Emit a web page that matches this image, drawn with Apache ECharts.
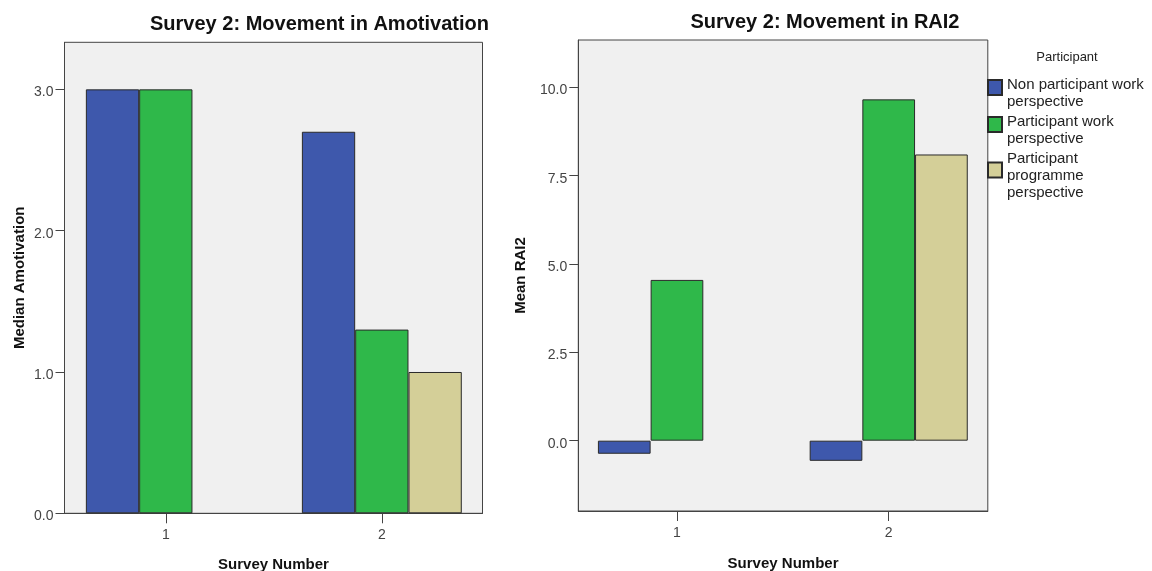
<!DOCTYPE html>
<html>
<head>
<meta charset="utf-8">
<script src="https://cdn.jsdelivr.net/npm/echarts@6/dist/echarts.min.js"></script>
<style>
html,body{margin:0;padding:0;background:#fff;}
#chart{width:1152px;height:571px;}
</style>
</head>
<body>
<div id="chart"></div>
<script>
// ---- data ----
const surveys = [1, 2];
const seriesNames = ['Non participant work perspective', 'Participant work perspective', 'Participant programme perspective'];
const legendLabels = ['Non participant work\nperspective', 'Participant work\nperspective', 'Participant\nprogramme\nperspective'];
const amotNonWork = [3.0, 2.7];
const amotWork = [3.0, 1.3];
const amotProg = [null, 1.0];
const raiNonWork = [-0.37, -0.57];
const raiWork = [4.55, 9.66];
const raiProg = [null, 8.10];
const amotTicks = [0, 1, 2, 3];
const raiTicks = [0, 2.5, 5, 7.5, 10];
const colors = ['#3e58ac', '#2fb84a', '#d4cf98'];

const FONT = '"Liberation Sans", Arial, sans-serif';

function pairs(arr) {
  const out = [];
  surveys.forEach((s, i) => { if (arr[i] !== null) out.push([s, arr[i]]); });
  return out;
}

function barSeries(idx, vals, gridIdx, bw) {
  return {
    type: 'bar',
    name: seriesNames[idx],
    xAxisIndex: gridIdx,
    yAxisIndex: gridIdx,
    data: pairs(vals),
    barWidth: bw,
    barGap: '0%',
    itemStyle: { color: colors[idx], borderColor: '#2a2a2a', borderWidth: 1 },
    emphasis: { disabled: true },
    animation: false
  };
}

function xAxisCfg(gridIdx, min, max, nameGap) {
  return {
    type: 'value', gridIndex: gridIdx, min: min, max: max,
    name: 'Survey Number', nameLocation: 'middle', nameGap: nameGap,
    nameTextStyle: { fontFamily: FONT, fontSize: 15, fontWeight: 'bold', color: '#111' },
    axisLine: { show: true, onZero: false, lineStyle: { color: '#444', width: 1 } },
    axisTick: { show: true, length: 10, customValues: surveys, lineStyle: { color: '#444' } },
    axisLabel: { customValues: surveys, margin: 15, fontFamily: FONT, fontSize: 14, color: '#444', formatter: v => String(v) },
    splitLine: { show: false }
  };
}

function yAxisCfg(gridIdx, min, max, ticks, name, nameGap) {
  return {
    type: 'value', gridIndex: gridIdx, min: min, max: max,
    name: name, nameLocation: 'middle', nameGap: nameGap,
    nameTextStyle: { fontFamily: FONT, fontSize: 15, fontWeight: 'bold', color: '#111' },
    axisLine: { show: true, lineStyle: { color: '#444', width: 1 } },
    axisTick: { show: true, length: 9, customValues: ticks, lineStyle: { color: '#444' } },
    axisLabel: { customValues: ticks, margin: 11, verticalAlign: 'top', lineHeight: 6,
      fontFamily: FONT, fontSize: 14, color: '#444', formatter: v => v.toFixed(1) },
    splitLine: { show: false }
  };
}

const chart = echarts.init(document.getElementById('chart'), null, { renderer: 'canvas' });
chart.setOption({
  animation: false,
  backgroundColor: '#ffffff',
  title: [
    { text: 'Survey 2: Movement in Amotivation', left: 319.5, top: 14, textAlign: 'center', padding: 0,
      textStyle: { fontFamily: FONT, fontSize: 20, fontWeight: 'bold', color: '#111' } },
    { text: 'Survey 2: Movement in RAI2', left: 825, top: 12, textAlign: 'center', padding: 0,
      textStyle: { fontFamily: FONT, fontSize: 20, fontWeight: 'bold', color: '#111' } },
    { text: 'Participant', left: 1067, top: 51, textAlign: 'center', padding: 0,
      textStyle: { fontFamily: FONT, fontSize: 13, fontWeight: 'normal', color: '#222' } }
  ],
  legend: {
    orient: 'vertical', left: 987, top: 64.5, padding: 0,
    itemWidth: 14, itemHeight: 15, itemGap: -9,
    icon: 'rect', selectedMode: false,
    data: seriesNames,
    formatter: name => '{p| }\n' + legendLabels[seriesNames.indexOf(name)],
    textStyle: { fontFamily: FONT, fontSize: 15, lineHeight: 17, color: '#222',
      rich: { p: { fontSize: 2, lineHeight: 12, height: 12 } } }
  },
  grid: [
    { left: 64.5, top: 42.3, width: 418, height: 471, outerBoundsMode: 'none', containLabel: false,
      show: true, backgroundColor: '#f0f0f0', borderColor: '#444', borderWidth: 1 },
    { left: 578.3, top: 40, width: 409.5, height: 471, outerBoundsMode: 'none', containLabel: false,
      show: true, backgroundColor: '#f0f0f0', borderColor: '#444', borderWidth: 1 }
  ],
  xAxis: [
    xAxisCfg(0, 0.531, 2.466, 44),
    xAxisCfg(1, 0.534, 2.468, 45.5)
  ],
  yAxis: [
    yAxisCfg(0, 0, 3.333, amotTicks, 'Median Amotivation', 37.5),
    yAxisCfg(1, -1.99, 11.34, raiTicks, 'Mean RAI2', 49.5)
  ],
  series: [
    barSeries(0, amotNonWork, 0, 53.3),
    barSeries(1, amotWork, 0, 53.3),
    barSeries(2, amotProg, 0, 53.3),
    barSeries(0, raiNonWork, 1, 52.7),
    barSeries(1, raiWork, 1, 52.7),
    barSeries(2, raiProg, 1, 52.7)
  ]
});
</script>
</body>
</html>
